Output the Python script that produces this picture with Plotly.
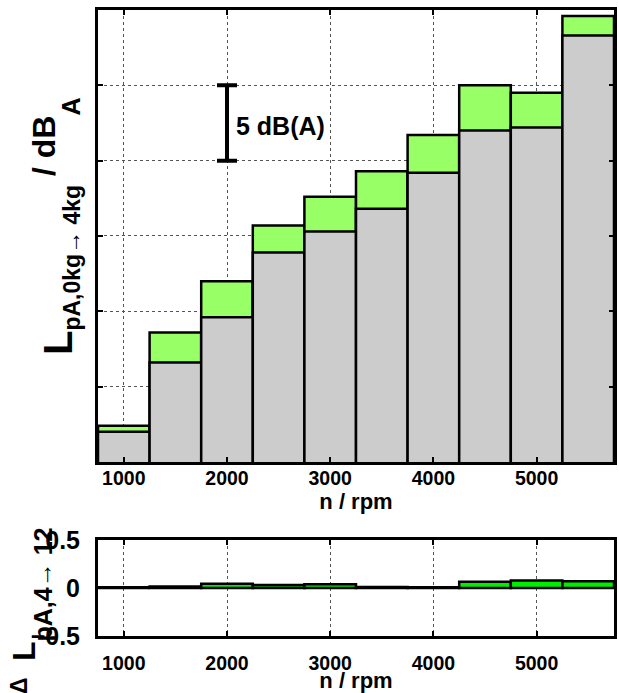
import plotly.graph_objects as go

# ---------------- data ----------------
rpm = [1000, 1500, 2000, 2500, 3000, 3500, 4000, 4500, 5000, 5500]
level_0kg = [62.0, 66.6, 69.6, 73.9, 75.3, 76.8, 79.2, 82.0, 82.2, 88.3]
level_4kg = [62.4, 68.6, 72.0, 75.7, 77.6, 79.3, 81.7, 85.0, 84.5, 89.6]
delta_4_12 = [0.0, 0.015, 0.045, 0.03, 0.04, 0.01, 0.005, 0.065, 0.078, 0.07]

x_ticks = [1000, 2000, 3000, 4000, 5000]
x_tick_labels = ["1000", "2000", "3000", "4000", "5000"]
y_top_grid = [60, 65, 70, 75, 80, 85, 90]
y_bottom_ticks = [-0.5, 0, 0.5]
y_bottom_labels = ["\u22120.5", "0", "0.5"]

scale_bar_x = [2000]
scale_bar_mid = [82.5]
scale_bar_half = [2.5]
scale_bar_text = "5 dB(A)"

FONT = "Liberation Sans"
GRAY = "#CCCCCC"
LIGHT_GREEN = "#99FF66"
GREEN = "#00EE00"

fig = go.Figure()
fig.add_bar(x=rpm, y=level_4kg, width=500, xaxis="x", yaxis="y",
            marker=dict(color=LIGHT_GREEN, line=dict(color="black", width=2.5)))
fig.add_bar(x=rpm, y=level_0kg, width=500, xaxis="x", yaxis="y",
            marker=dict(color=GRAY, line=dict(color="black", width=2.5)))
fig.add_bar(x=rpm, y=delta_4_12, width=500, xaxis="x2", yaxis="y2",
            marker=dict(color=GREEN, line=dict(color="black", width=2.5)))
fig.add_scatter(x=scale_bar_x, y=scale_bar_mid, mode="markers", xaxis="x", yaxis="y",
                marker=dict(size=1, color="rgba(0,0,0,0)"),
                error_y=dict(type="data", array=scale_bar_half, color="black",
                             thickness=4, width=10))

common = dict(showline=True, linecolor="black", linewidth=3, mirror="ticks",
              ticks="inside", ticklen=5, tickwidth=2, tickcolor="black",
              showgrid=True, gridcolor="#555555", griddash="dot", gridwidth=1,
              zeroline=False, automargin=False)
tickfont = dict(family=FONT, size=19.5, color="black", weight="bold")
titlefont = dict(family=FONT, size=22, color="black", weight="bold")

fig.update_layout(
    width=619, height=693,
    margin=dict(l=98, r=5, t=10, b=57),
    plot_bgcolor="white", paper_bgcolor="white",
    showlegend=False, barmode="overlay",
    xaxis=dict(domain=[0, 1], anchor="y", range=[750, 5750],
               tickvals=x_ticks, ticktext=x_tick_labels, tickfont=tickfont,
               ticklabelstandoff=-3,
               title=dict(text="n / rpm", font=titlefont, standoff=0), **common),
    yaxis=dict(domain=[0.278, 1], anchor="x", range=[60, 90],
               tickvals=y_top_grid, showticklabels=False, **common),
    xaxis2=dict(domain=[0, 1], anchor="y2", range=[750, 5750],
                tickvals=x_ticks, ticktext=x_tick_labels, tickfont=tickfont,
                ticklabelstandoff=8,
                title=dict(text="n / rpm", font=titlefont, standoff=0), **common),
    yaxis2=dict(domain=[0, 0.1534], anchor="x2", range=[-0.5, 0.5],
                tickvals=y_bottom_ticks, ticktext=y_bottom_labels,
                tickfont=dict(family=FONT, size=25, color="black", weight="bold"),
                ticklabelstandoff=10,
                **{**common, "showgrid": False, "zeroline": True,
                   "zerolinecolor": "black", "zerolinewidth": 3}),
)

fig.add_annotation(xref="x", yref="y", x=scale_bar_x[0], y=82.3, xanchor="left",
                   xshift=7, showarrow=False, text="<b>" + scale_bar_text + "</b>",
                   font=dict(family=FONT, size=25, color="black"))

# top y-axis title
fig.add_annotation(xref="paper", yref="paper", x=(55 - 98) / 516, y=(636 - 226) / 626,
                   xanchor="center", yanchor="middle", showarrow=False, textangle=-90,
                   text='<b><span style="font-size:40px">L</span>'
                        '<sub><span style="font-size:23px">pA,0kg\u2192 4kg</span></sub>'
                        '<sup><span style="font-size:32px"> / dB</span></sup>'
                        '<sub><span style="font-size:25px">A</span></sub></b>',
                   font=dict(family=FONT, size=40, color="black"))

# bottom y-axis title
fig.add_annotation(xref="paper", yref="paper", x=(19 - 98) / 516, y=(636 - 686) / 626,
                   xanchor="center", yanchor="middle", showarrow=False, textangle=-90,
                   text='<b>\u0394</b>', font=dict(family=FONT, size=23, color="black"))
fig.add_annotation(xref="paper", yref="paper", x=(31 - 98) / 516, y=(636 - 595) / 626,
                   xanchor="center", yanchor="middle", showarrow=False, textangle=-90,
                   text='<b><span style="font-size:32px">L</span>'
                        '<sub><span style="font-size:25px">pA,4\u2192 12</span></sub></b>',
                   font=dict(family=FONT, size=80, color="black"))

fig.write_html("out.html", config={"displayModeBar": False},
               post_script="document.body.style.margin='0';document.body.style.overflow='hidden';")
